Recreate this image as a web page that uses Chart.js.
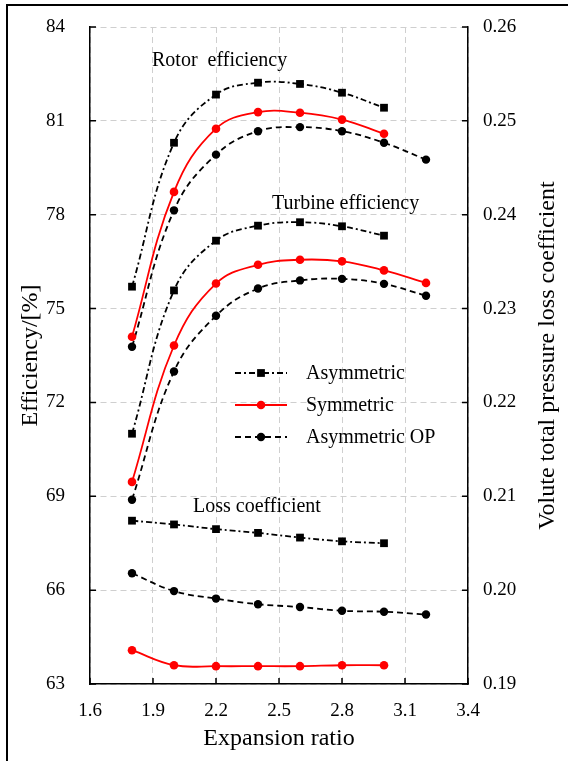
<!DOCTYPE html>
<html>
<head>
<meta charset="utf-8">
<script src="https://cdn.jsdelivr.net/npm/chart.js@4.4.1/dist/chart.umd.min.js"></script>
<style>
  html, body { margin: 0; padding: 0; background: #fff; }
  #wrap { position: relative; width: 568px; height: 761px; }
  #frame { position: absolute; left: 6px; top: 4px; right: 0; bottom: 0;
           border-left: 2px solid #000; border-top: 2px solid #000; pointer-events: none; }
</style>
</head>
<body>
<div id="wrap">
  <canvas id="chart" width="568" height="761"></canvas>
  <div id="frame"></div>
</div>
<script>
// expansion ratio (x)
const ratio = [1.8, 2.0, 2.2, 2.4, 2.6, 2.8, 3.0, 3.2];

// efficiency [%] (left axis)
const rotorAsym = [75.7, 80.3, 81.84, 82.22, 82.18, 81.9, 81.42];
const rotorSym = [74.1, 78.73, 80.75, 81.28, 81.26, 81.04, 80.59];
const rotorOP = [73.78, 78.14, 79.92, 80.67, 80.8, 80.67, 80.3, 79.76];
const turbAsym = [71.0, 75.58, 77.17, 77.65, 77.76, 77.63, 77.33];
const turbSym = [69.46, 73.82, 75.8, 76.4, 76.56, 76.51, 76.22, 75.82];
const turbOP = [68.89, 72.99, 74.77, 75.64, 75.9, 75.95, 75.79, 75.41];

// volute total pressure loss coefficient (right axis)
const lossAsym = [0.2074, 0.207, 0.2065, 0.2061, 0.2056, 0.2052, 0.205];
const lossSym = [0.1936, 0.192, 0.1919, 0.1919, 0.1919, 0.192, 0.192];
const lossOP = [0.2018, 0.1999, 0.1991, 0.1985, 0.1982, 0.1978, 0.1977, 0.1974];

const legendLabels = ["Asymmetric", "Symmetric", "Asymmetric OP"];
const notes = [
  { text: "Rotor  efficiency", x: 152, y: 61 },
  { text: "Turbine efficiency", x: 272, y: 204 },
  { text: "Loss coefficient", x: 193, y: 507 },
];

const serif = "'Liberation Serif', 'Times New Roman', serif";

// line styles per configuration
const styles = {
  asym: { borderColor: "#000", backgroundColor: "#000", borderDash: [6, 3, 2, 3], pointStyle: "rect", pointRadius: 5.5 },
  sym: { borderColor: "#ff0000", backgroundColor: "#ff0000", borderDash: [], pointStyle: "circle", pointRadius: 4.3 },
  op: { borderColor: "#000", backgroundColor: "#000", borderDash: [6, 4], pointStyle: "circle", pointRadius: 4.2 },
};

function series(values, style, axis) {
  return {
    data: values.map((v, i) => ({ x: ratio[i], y: v })),
    yAxisID: axis,
    borderWidth: 1.8,
    tension: 0.4,
    pointBorderWidth: 0,
    pointHoverRadius: 5,
    ...styles[style],
  };
}

// inward tick marks, annotations, legend, right axis title
const decorations = {
  id: "decorations",
  afterDraw(chart) {
    const { ctx, chartArea, scales } = chart;
    ctx.save();
    ctx.strokeStyle = "#000";
    ctx.lineWidth = 1.5;
    ctx.beginPath();
    scales.x.ticks.forEach((t) => {
      const px = scales.x.getPixelForValue(t.value);
      ctx.moveTo(px, chartArea.bottom);
      ctx.lineTo(px, chartArea.bottom - 6);
    });
    scales.y.ticks.forEach((t) => {
      const py = scales.y.getPixelForValue(t.value);
      ctx.moveTo(chartArea.left, py);
      ctx.lineTo(chartArea.left + 6, py);
    });
    scales.y1.ticks.forEach((t) => {
      const py = scales.y1.getPixelForValue(t.value);
      ctx.moveTo(chartArea.right, py);
      ctx.lineTo(chartArea.right - 6, py);
    });
    ctx.stroke();

    ctx.fillStyle = "#000";
    ctx.font = "20px " + serif;
    ctx.textBaseline = "middle";
    ctx.textAlign = "left";
    notes.forEach((n) => ctx.fillText(n.text, n.x, n.y));

    // legend
    const keys = ["asym", "sym", "op"];
    keys.forEach((k, i) => {
      const s = styles[k];
      const y = 373 + i * 32;
      ctx.strokeStyle = s.borderColor;
      ctx.lineWidth = 1.8;
      ctx.setLineDash(s.borderDash);
      ctx.beginPath();
      ctx.moveTo(235, y);
      ctx.lineTo(287, y);
      ctx.stroke();
      ctx.setLineDash([]);
      ctx.fillStyle = s.backgroundColor;
      Chart.helpers.drawPoint(ctx, { pointStyle: s.pointStyle, radius: s.pointRadius, borderWidth: 0 }, 261, y);
      ctx.fillStyle = "#000";
      ctx.fillText(legendLabels[i], 306, y + 1);
    });

    // right axis title reads bottom to top
    ctx.font = "24px " + serif;
    ctx.textAlign = "center";
    ctx.translate(548, (chartArea.top + chartArea.bottom) / 2);
    ctx.rotate(-Math.PI / 2);
    ctx.fillText("Volute total pressure loss coefficient", 0, 0);
    ctx.restore();
  },
};

const grid = { color: "#cfcfcf", lineWidth: 1, drawTicks: false };

function fixWidth(w) {
  return (s) => {
    s.width = w;
    s.paddingTop = 0;
    s.paddingBottom = 0;
  };
}

new Chart(document.getElementById("chart"), {
  type: "line",
  data: {
    datasets: [
      series(rotorAsym, "asym", "y"),
      series(rotorSym, "sym", "y"),
      series(rotorOP, "op", "y"),
      series(turbAsym, "asym", "y"),
      series(turbSym, "sym", "y"),
      series(turbOP, "op", "y"),
      series(lossAsym, "asym", "y1"),
      series(lossSym, "sym", "y1"),
      series(lossOP, "op", "y1"),
    ],
  },
  options: {
    responsive: false,
    animation: false,
    layout: { padding: { top: 27, left: 0, right: 0, bottom: 0 } },
    plugins: { legend: { display: false }, tooltip: { enabled: false } },
    scales: {
      x: {
        type: "linear",
        min: 1.6,
        max: 3.4,
        afterFit: (s) => { s.height = 77; },
        ticks: { stepSize: 0.3, padding: 16, color: "#000", font: { family: serif, size: 19 },
                 callback: (v) => v.toFixed(1) },
        grid: { ...grid },
        border: { color: "#000", width: 1.5, dash: [6, 4] },
        title: { display: true, text: "Expansion ratio", color: "#000", padding: { bottom: 8 },
                 font: { family: serif, size: 24 } },
      },
      y: {
        position: "left",
        min: 63,
        max: 84,
        afterFit: fixWidth(90),
        ticks: { stepSize: 3, padding: 25, color: "#000", font: { family: serif, size: 19 } },
        grid: { ...grid },
        border: { color: "#000", width: 1.5, dash: [6, 4] },
        title: { display: true, text: "Efficiency/[%]", color: "#000", padding: { top: 16 },
                 font: { family: serif, size: 24 } },
      },
      y1: {
        position: "right",
        min: 0.19,
        max: 0.26,
        afterFit: fixWidth(100),
        ticks: { stepSize: 0.01, padding: 15, color: "#000", font: { family: serif, size: 19 },
                 callback: (v) => v.toFixed(2) },
        grid: { drawOnChartArea: false, drawTicks: false },
        border: { color: "#000", width: 1.5 },
      },
    },
  },
  plugins: [decorations],
});
</script>
</body>
</html>
